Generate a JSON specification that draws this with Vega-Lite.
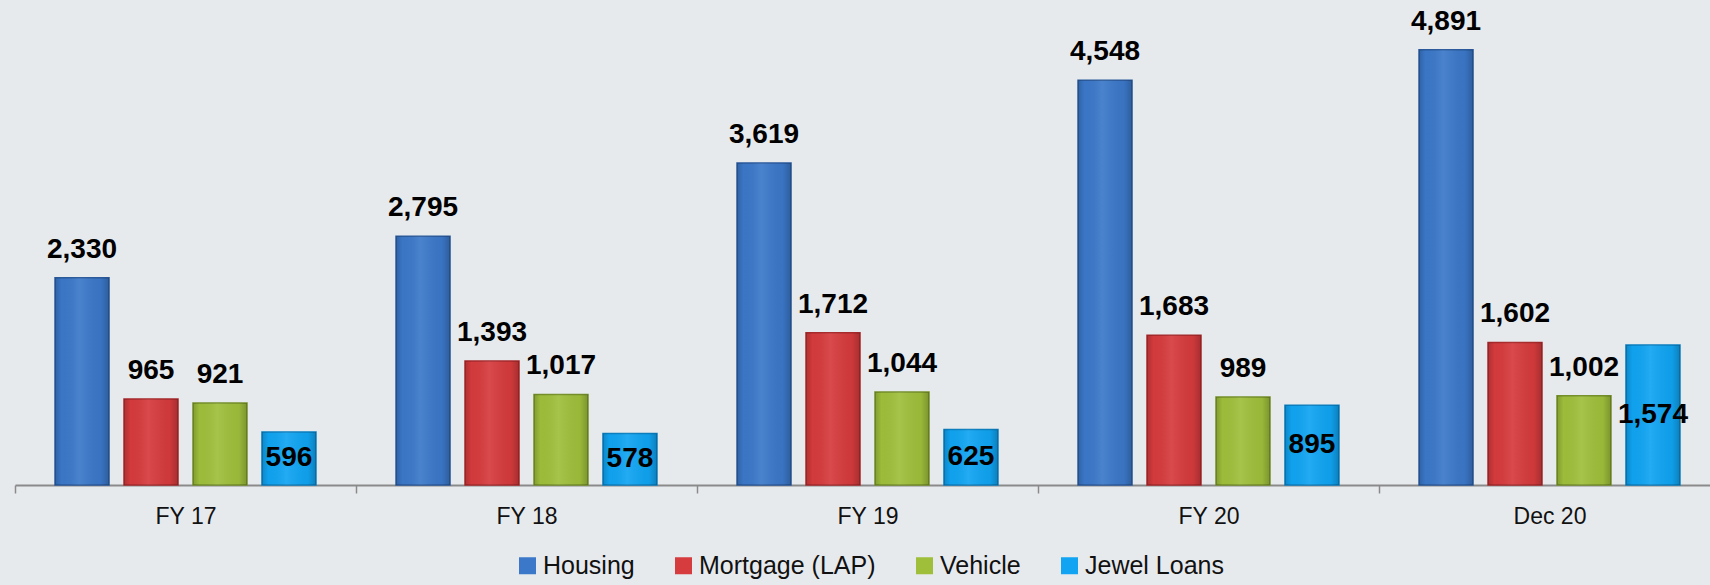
{
  "$schema": "https://vega.github.io/schema/vega-lite/v6.json",
  "width": 1705,
  "height": 445,
  "autosize": {"type": "none"},
  "padding": {"left": 15, "top": 40, "right": 0, "bottom": 100},
  "background": "#e7eaed",
  "config": {"view": {"stroke": null}, "font": "Liberation Sans"},
  "data": {
    "values": [
      {"period": "FY 17", "segment": "Housing", "value": 2330},
      {"period": "FY 17", "segment": "Mortgage (LAP)", "value": 965},
      {"period": "FY 17", "segment": "Vehicle", "value": 921},
      {"period": "FY 17", "segment": "Jewel Loans", "value": 596},
      {"period": "FY 18", "segment": "Housing", "value": 2795},
      {"period": "FY 18", "segment": "Mortgage (LAP)", "value": 1393},
      {"period": "FY 18", "segment": "Vehicle", "value": 1017},
      {"period": "FY 18", "segment": "Jewel Loans", "value": 578},
      {"period": "FY 19", "segment": "Housing", "value": 3619},
      {"period": "FY 19", "segment": "Mortgage (LAP)", "value": 1712},
      {"period": "FY 19", "segment": "Vehicle", "value": 1044},
      {"period": "FY 19", "segment": "Jewel Loans", "value": 625},
      {"period": "FY 20", "segment": "Housing", "value": 4548},
      {"period": "FY 20", "segment": "Mortgage (LAP)", "value": 1683},
      {"period": "FY 20", "segment": "Vehicle", "value": 989},
      {"period": "FY 20", "segment": "Jewel Loans", "value": 895},
      {"period": "Dec 20", "segment": "Housing", "value": 4891},
      {"period": "Dec 20", "segment": "Mortgage (LAP)", "value": 1602},
      {"period": "Dec 20", "segment": "Vehicle", "value": 1002},
      {"period": "Dec 20", "segment": "Jewel Loans", "value": 1574}
    ]
  },
  "encoding": {
    "x": {
      "field": "period",
      "type": "nominal",
      "sort": null,
      "scale": {"paddingInner": 0, "paddingOuter": 0},
      "axis": {
        "title": null,
        "labelAngle": 0,
        "labelFont": "Liberation Sans",
        "labelFontSize": 23,
        "labelColor": "#111111",
        "labelPadding": 12,
        "tickBand": "extent",
        "tickSize": 8,
        "tickColor": "#8a8a8a",
        "tickWidth": 1.5,
        "domainColor": "#8a8a8a",
        "domainWidth": 2,
        "grid": false
      }
    },
    "xOffset": {
      "field": "segment",
      "type": "nominal",
      "sort": ["Housing", "Mortgage (LAP)", "Vehicle", "Jewel Loans"],
      "scale": {"paddingInner": 0.217, "paddingOuter": 0.58}
    }
  },
  "layer": [
    {
      "mark": {"type": "bar", "strokeWidth": 1.5},
      "encoding": {
        "y": {"field": "value", "type": "quantitative", "scale": {"domain": [0, 5000]}, "axis": null},
        "color": {
          "field": "segment",
          "type": "nominal",
          "sort": ["Housing", "Mortgage (LAP)", "Vehicle", "Jewel Loans"],
          "scale": {
            "domain": ["Housing", "Mortgage (LAP)", "Vehicle", "Jewel Loans"],
            "range": ["#3b78c9", "#d63b3d", "#9fbf3b", "#10a4f2"]
          },
          "legend": {
            "orient": "none",
            "legendX": 500,
            "legendY": 513,
            "direction": "horizontal",
            "title": null,
            "symbolType": "square",
            "symbolSize": 289,
            "symbolStrokeWidth": 0,
            "labelFont": "Liberation Sans",
            "labelFontSize": 25,
            "labelLimit": 0,
            "labelColor": "#111111",
            "labelOffset": 3,
            "columnPadding": 36,
            "padding": 0
          }
        },
        "stroke": {
          "field": "segment",
          "type": "nominal",
          "scale": {
            "domain": ["Housing", "Mortgage (LAP)", "Vehicle", "Jewel Loans"],
            "range": ["#2b5a9c", "#a82a2c", "#75902a", "#0b7fc0"]
          },
          "legend": null
        }
      }
    },
    {
      "mark": {
        "type": "bar",
        "color": {
          "gradient": "linear",
          "x1": 0, "y1": 0, "x2": 1, "y2": 0,
          "stops": [
            {"offset": 0, "color": "rgba(0,0,0,0.18)"},
            {"offset": 0.12, "color": "rgba(0,0,0,0.02)"},
            {"offset": 0.45, "color": "rgba(255,255,255,0.08)"},
            {"offset": 0.85, "color": "rgba(0,0,0,0.04)"},
            {"offset": 1, "color": "rgba(0,0,0,0.22)"}
          ]
        }
      },
      "encoding": {
        "y": {"field": "value", "type": "quantitative", "scale": {"domain": [0, 5000]}, "axis": null}
      }
    },
    {
      "transform": [{"filter": "datum.segment !== 'Jewel Loans'"}],
      "mark": {"type": "text", "baseline": "alphabetic", "dy": -20, "font": "Liberation Sans", "fontSize": 28, "fontWeight": "bold", "color": "#000000"},
      "encoding": {
        "y": {"field": "value", "type": "quantitative", "scale": {"domain": [0, 5000]}, "axis": null},
        "text": {"field": "value", "type": "quantitative", "format": ","}
      }
    },
    {
      "transform": [{"filter": "datum.segment === 'Jewel Loans'"}],
      "mark": {"type": "text", "baseline": "middle", "font": "Liberation Sans", "fontSize": 28, "fontWeight": "bold", "color": "#000000"},
      "encoding": {
        "y": {"field": "value", "type": "quantitative", "scale": {"domain": [0, 10000]}, "axis": null},
        "text": {"field": "value", "type": "quantitative", "format": ","}
      }
    }
  ],
  "resolve": {"scale": {"y": "independent"}}
}
